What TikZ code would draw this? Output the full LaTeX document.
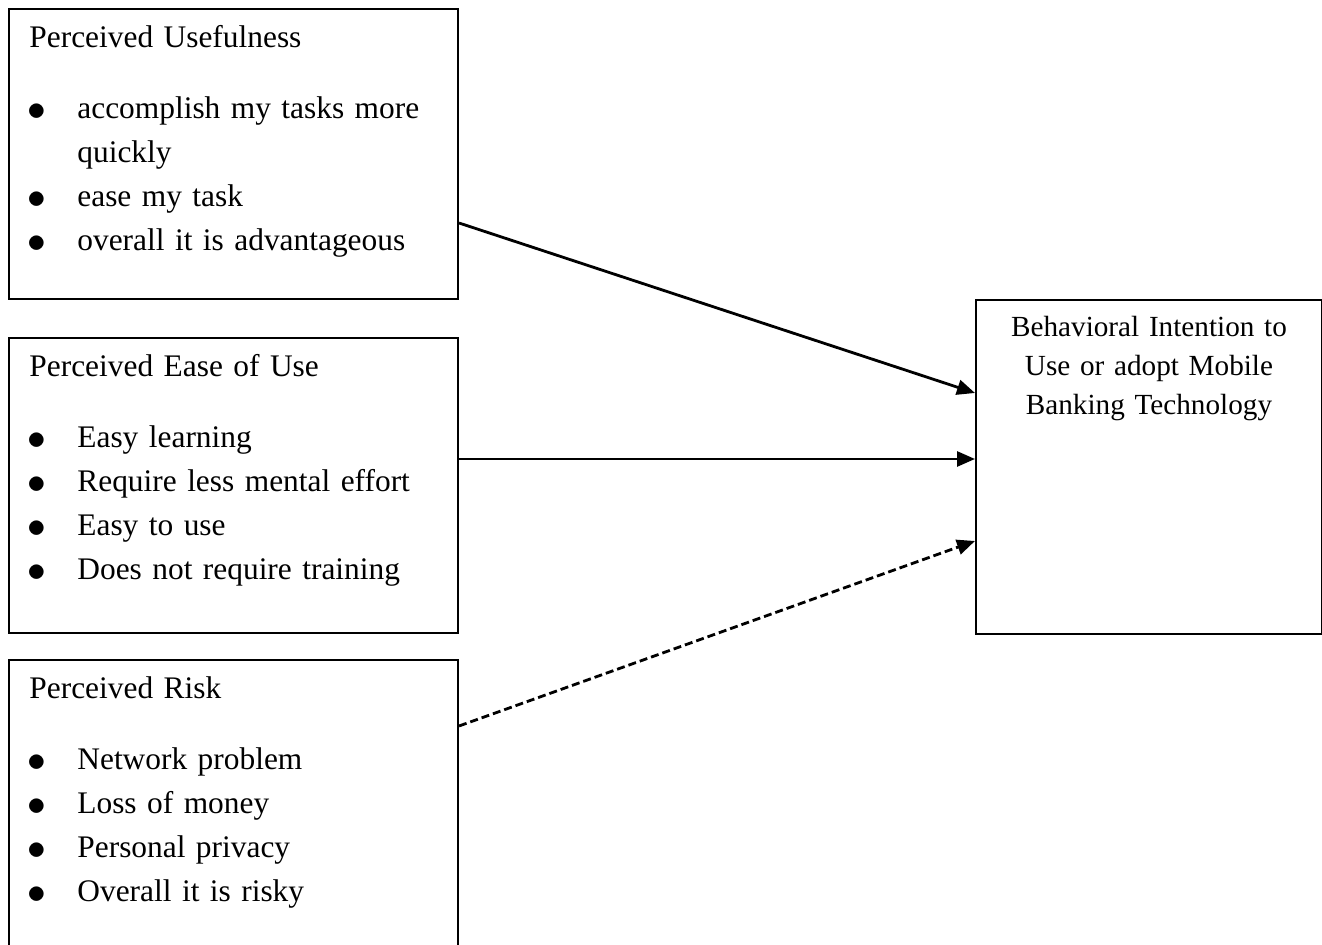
\documentclass[tikz,border=0pt]{standalone}
\usepackage{fontspec}
\setmainfont{Liberation Serif}
\usepackage{tikz}
\usetikzlibrary{positioning, arrows.meta, calc}

\newcommand{\bul}[1]{\par\noindent\hangindent=24pt\hangafter=1\makebox[24pt][l]{\hspace{-0.8pt}\raisebox{-1.1pt}{\scalebox{1.3}{$\bullet$}}}#1}

\begin{document}
\begin{tikzpicture}[x=0.5pt, y=-0.5pt,
    frame/.style={draw, line width=1pt, rectangle, inner sep=0pt, anchor=north west},
    listtext/.style={anchor=north west, inner sep=0pt, text width=212pt, align=left, font=\fontsize{15.7pt}{22pt}\selectfont},
    arr/.style={-{Triangle[length=9pt, width=7.5pt]}, line width=1.4pt}]

    \useasboundingbox (0,0) rectangle (1322,945);
    \clip (0,0) rectangle (1322,945);

    % Boxes
    \node[frame, minimum width=224.5pt, minimum height=145pt] (pu) at (8,8) {};
    \node[frame, minimum width=224.5pt, minimum height=147.5pt] (peou) at (8,337) {};
    \node[frame, minimum width=224.5pt, minimum height=150.5pt] (pr) at (8,659) {};
    \node[frame, minimum width=173pt, minimum height=167pt] (bi) at (975,299) {};

    % Perceived Usefulness
    \node[listtext] (putext) at ([xshift=10.5pt, yshift=-4.1pt]pu.north west) {%
        \noindent\strut Perceived Usefulness\par\vspace{13.5pt}
        \bul{accomplish my tasks more\newline quickly}
        \bul{ease my task}
        \bul{overall it is advantageous}};

    % Perceived Ease of Use
    \node[listtext] (peoutext) at ([xshift=10.5pt, yshift=-4.1pt]peou.north west) {%
        \noindent\strut Perceived Ease of Use\par\vspace{13.5pt}
        \bul{Easy learning}
        \bul{Require less mental effort}
        \bul{Easy to use}
        \bul{Does not require training}};

    % Perceived Risk
    \node[listtext] (prtext) at ([xshift=10.5pt, yshift=-4.1pt]pr.north west) {%
        \noindent\strut Perceived Risk\par\vspace{13.5pt}
        \bul{Network problem}
        \bul{Loss of money}
        \bul{Personal privacy}
        \bul{Overall it is risky}};

    % Behavioral Intention
    \node[anchor=north, inner sep=0pt, text width=170pt, align=center,
          font=\fontsize{14.6pt}{19.5pt}\selectfont] (bitext) at ([yshift=-4.85pt]bi.north)
        {\strut Behavioral Intention to\\ Use or adopt Mobile\\ Banking Technology};

    % Arrows
    \draw[arr] ([yshift=-34.5pt]pu.east) -- ([yshift=37pt]bi.west);
    \draw[arr] ([yshift=13.25pt]peou.east) coordinate (a2) -- (a2 -| bi.west);
    \draw[arr, dash pattern=on 4pt off 2pt] ([yshift=-33.5pt]pr.north east) -- ([yshift=-37pt]bi.west);
\end{tikzpicture}
\end{document}
